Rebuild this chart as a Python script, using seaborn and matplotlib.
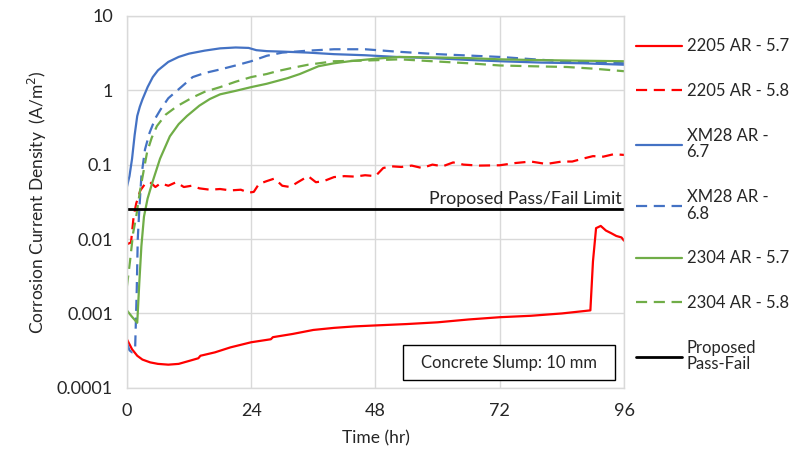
import numpy as np
import pandas as pd
import matplotlib
matplotlib.use('Agg')
import matplotlib.pyplot as plt
from matplotlib.ticker import FixedLocator, FixedFormatter
from matplotlib.patches import Rectangle
import seaborn as sns

# data
t_2205_57 = [0, 1, 2, 3, 4.5, 6, 8, 10, 12, 13.8, 14.2, 17, 20, 24, 27.8, 28.2, 32, 36, 40, 44,
             48, 54, 60, 66, 72, 78, 84, 89.5, 90.0, 90.6, 91.5, 92.5, 93.5, 94.5, 95.5, 96]
v_2205_57 = [0.00045, 0.00033, 0.00027, 0.00024, 0.00022, 0.00021, 0.000205, 0.00021, 0.00023,
             0.00025, 0.00027, 0.0003, 0.00035, 0.00041, 0.00045, 0.00048, 0.00053, 0.0006,
             0.00064, 0.00067, 0.00069, 0.00072, 0.00076, 0.00083, 0.00089, 0.00093, 0.001,
             0.0011, 0.005, 0.014, 0.015, 0.013, 0.012, 0.011, 0.0105, 0.0095]

t_2205_58 = [0, 0.8, 1.3, 1.8, 2.6, 3.5, 4.5, 5.5, 6.5, 8, 9.5, 11, 12.5, 14, 16, 18, 20, 22, 23.5,
             24.5, 25.5, 27, 28.5, 30, 31.5, 33, 35, 36.5, 38, 40, 42, 44, 46, 48, 49.5, 51, 53, 55,
             57, 59, 61, 63, 65, 68, 72, 75, 78, 81, 84, 86, 88, 90, 92, 94, 96]
v_2205_58 = [0.0085, 0.009, 0.02, 0.03, 0.045, 0.055, 0.058, 0.05, 0.056, 0.052, 0.058, 0.05, 0.052,
             0.048, 0.046, 0.047, 0.045, 0.046, 0.042, 0.043, 0.055, 0.06, 0.065, 0.052, 0.05,
             0.058, 0.07, 0.058, 0.06, 0.068, 0.07, 0.069, 0.072, 0.07, 0.09, 0.095, 0.093, 0.097,
             0.09, 0.1, 0.095, 0.107, 0.1, 0.097, 0.098, 0.105, 0.11, 0.102, 0.11, 0.11, 0.12,
             0.13, 0.128, 0.138, 0.135]

t_xm28_67 = [0, 0.5, 1, 1.5, 2, 2.5, 3, 4, 5, 6, 8, 10, 12, 15, 18, 21, 23.5, 25, 27, 30, 35, 40,
             46, 52, 59, 66, 72, 80, 88, 96]
v_xm28_67 = [0.05, 0.07, 0.12, 0.25, 0.45, 0.6, 0.75, 1.1, 1.5, 1.85, 2.4, 2.8, 3.1, 3.4, 3.65,
             3.75, 3.7, 3.45, 3.35, 3.3, 3.2, 3.05, 2.95, 2.8, 2.7, 2.55, 2.45, 2.35, 2.3, 2.2]

t_xm28_68 = [0, 0.5, 1, 1.6, 1.9, 2.1, 2.4, 2.8, 3.5, 4.4, 5.5, 6.5, 8, 10, 12.7, 15, 18, 21, 24,
             27, 30, 35, 40, 46, 52, 60, 72, 84, 96]
v_xm28_68 = [0.0004, 0.00032, 0.0003, 0.00035, 0.002, 0.01, 0.025, 0.07, 0.16, 0.27, 0.42, 0.55,
             0.78, 1.03, 1.5, 1.7, 1.9, 2.15, 2.45, 2.9, 3.2, 3.4, 3.55, 3.55, 3.3, 3.05, 2.8,
             2.45, 2.3]

t_2304_57 = [0, 1, 2, 2.4, 2.8, 3.3, 4, 5, 6.4, 8.3, 10, 11.6, 14, 16, 18, 21, 24, 27, 29, 31,
             33.4, 37, 40, 43, 48, 52.7, 60, 66, 72, 78, 86, 96]
v_2304_57 = [0.0011, 0.0009, 0.00075, 0.0026, 0.008, 0.02, 0.035, 0.06, 0.12, 0.24, 0.35, 0.45,
             0.62, 0.76, 0.88, 0.98, 1.1, 1.22, 1.33, 1.45, 1.65, 2.1, 2.3, 2.45, 2.65, 2.8, 2.75,
             2.7, 2.6, 2.55, 2.5, 2.45]

t_2304_58 = [0, 0.6, 1.2, 1.8, 2.5, 3.2, 3.9, 4.8, 5.8, 7.5, 9.7, 12.7, 15, 18, 21, 24, 27, 29,
             32, 35, 40, 46, 52.7, 59, 66, 72, 78, 85, 90, 96]
v_2304_58 = [0.0023, 0.005, 0.012, 0.02, 0.043, 0.08, 0.147, 0.23, 0.33, 0.47, 0.61, 0.8, 0.95,
             1.1, 1.3, 1.5, 1.65, 1.8, 2.0, 2.2, 2.45, 2.5, 2.6, 2.45, 2.3, 2.15, 2.1, 2.05, 1.95,
             1.8]

t_limit = [0, 96]
v_limit = [0.025, 0.025]

x_ticks = [0, 24, 48, 72, 96]
y_ticks = [0.0001, 0.001, 0.01, 0.1, 1, 10]
y_tick_labels = ['0.0001', '0.001', '0.01', '0.1', '1', '10']

sns.set_theme(style='whitegrid')
plt.rcParams['font.family'] = ['Lato', 'DejaVu Sans']

fig, ax = plt.subplots(figsize=(7.98, 4.51), dpi=100)
fig.subplots_adjust(left=0.159, right=0.782, top=0.965, bottom=0.14)

red = '#ff0000'
blue = '#4472c4'
green = '#70ad47'
dash = (5, 3)
txt_col = '#262626'

series = [
    (t_2205_57, v_2205_57, red, None, '2205 AR - 5.7'),
    (t_2205_58, v_2205_58, red, dash, '2205 AR - 5.8'),
    (t_xm28_67, v_xm28_67, blue, None, 'XM28 AR -\n6.7'),
    (t_xm28_68, v_xm28_68, blue, dash, 'XM28 AR -\n6.8'),
    (t_2304_57, v_2304_57, green, None, '2304 AR - 5.7'),
    (t_2304_58, v_2304_58, green, dash, '2304 AR - 5.8'),
    (t_limit, v_limit, 'black', None, 'Proposed\nPass-Fail'),
]

for tt, vv, col, ds, lab in series:
    lw = 2.0 if col == 'black' else 1.6
    sns.lineplot(x=tt, y=vv, color=col, linewidth=lw, label=lab, ax=ax, sort=False)
    if ds is not None:
        ax.lines[-1].set_dashes(ds)

ax.set_yscale('log')
ax.set_xlim(0, 96)
ax.set_ylim(0.0001, 10)
ax.xaxis.set_major_locator(FixedLocator(x_ticks))
ax.yaxis.set_major_locator(FixedLocator(y_ticks))
ax.yaxis.set_major_formatter(FixedFormatter(y_tick_labels))
ax.yaxis.set_minor_locator(FixedLocator([]))
ax.tick_params(axis='both', length=0, labelsize=13, colors=txt_col)
ax.tick_params(axis='x', pad=11)
ax.tick_params(axis='y', pad=10)
ax.grid(True, color='#d9d9d9', linewidth=1)
for s in ax.spines.values():
    s.set_color('#d9d9d9')
    s.set_linewidth(1)

ax.set_xlabel('Time (hr)', fontsize=12.5, color=txt_col, labelpad=8)
ax.set_ylabel('Corrosion Current Density  (A/m$^2$)', fontsize=12.5, color=txt_col, labelpad=6)

ax.text(95.5, 0.027, 'Proposed Pass/Fail Limit', ha='right', va='bottom', fontsize=12.8,
        color=txt_col)

# annotation box
ax.add_patch(Rectangle((0.555, 0.0215), 0.427, 0.094, transform=ax.transAxes,
                       facecolor='white', edgecolor='black', linewidth=1, zorder=5))
ax.text(0.768, 0.068, 'Concrete Slump: 10 mm', transform=ax.transAxes, ha='center',
        va='center', fontsize=12, color=txt_col, zorder=6)

leg = ax.legend(loc='upper left', bbox_to_anchor=(1.01, 0.957), frameon=False, fontsize=12,
                handlelength=2.8, labelspacing=1.72, handletextpad=0.25, borderaxespad=0)
for txt in leg.get_texts():
    txt.set_color(txt_col)
    txt.set_linespacing(1.05)

fig.savefig('out.png', dpi=100)
